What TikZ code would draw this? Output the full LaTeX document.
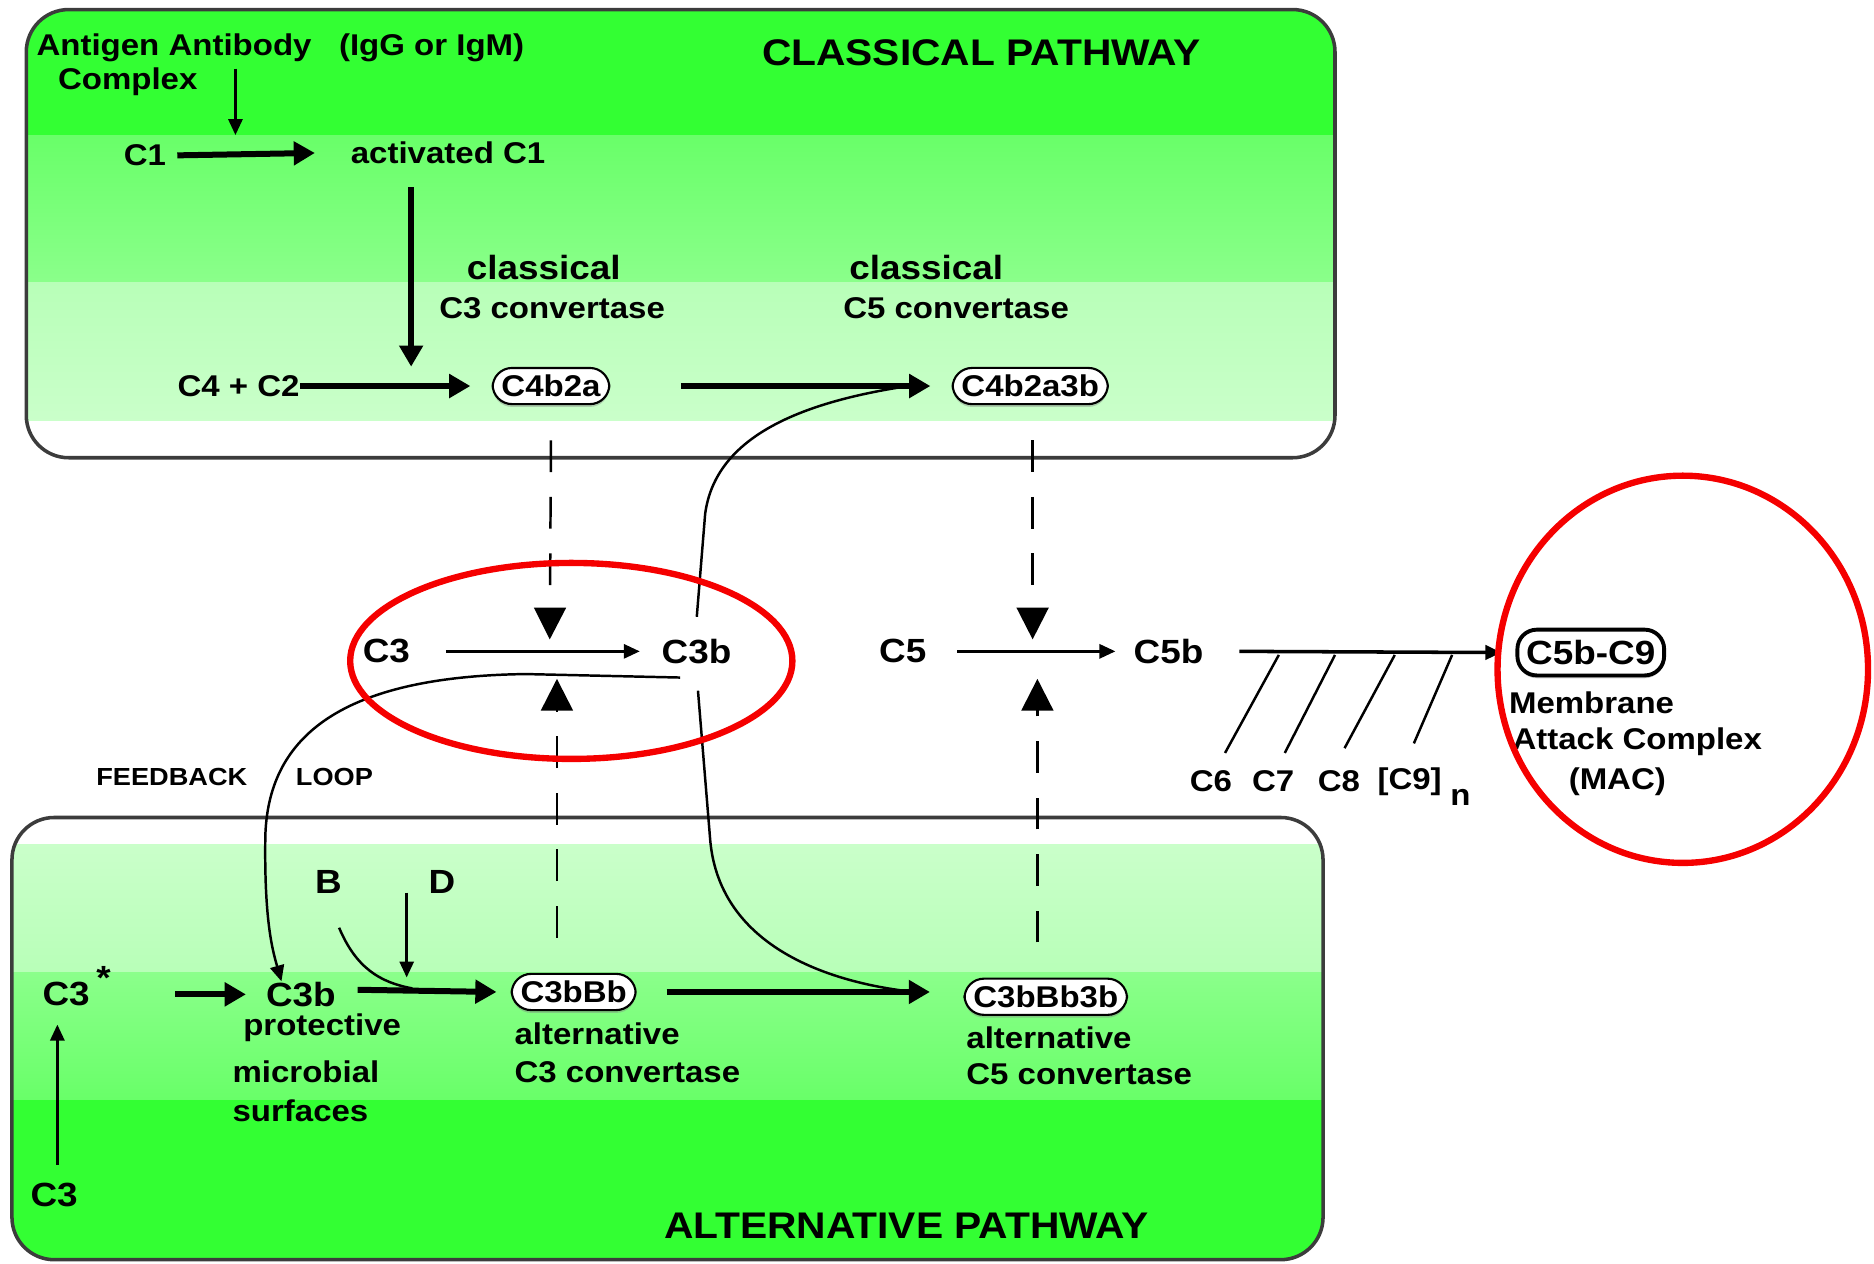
\documentclass[tikz,border=0pt]{standalone}
\usepackage{fontspec}
\setmainfont{Liberation Sans}[FakeStretch=1.1]
\usetikzlibrary{positioning,arrows.meta,shadows}

\definecolor{grnhi}{RGB}{51,255,51}
\definecolor{grnmid}{RGB}{118,255,118}
\definecolor{grnlo}{RGB}{184,255,184}
\definecolor{boxline}{RGB}{60,60,60}
\definecolor{ringred}{RGB}{245,0,0}

\begin{document}
\begin{tikzpicture}[x=0.0119cm, y=-0.0119cm,
    lbl/.style={inner sep=0pt, anchor=west, font=\fontsize{8.5}{10}\selectfont\bfseries},
    big/.style={lbl, font=\fontsize{9.5}{11}\selectfont\bfseries},
    head/.style={lbl, font=\fontsize{10.5}{12}\selectfont\bfseries},
    tiny/.style={lbl, font=\fontsize{7}{8}\selectfont\bfseries},
    pill/.style={draw=black, fill=white, rounded corners=5.5pt, inner xsep=2.5pt, inner ysep=2pt,
        line width=0.6pt, font=\fontsize{8.5}{10}\selectfont\bfseries,
        drop shadow={shadow xshift=0pt, shadow yshift=-0.8pt, opacity=0.4}},
    fat/.style={line width=1.7pt, -{Triangle[length=6pt,width=6.5pt]}},
    thin/.style={line width=0.7pt, -{Triangle[length=4.5pt,width=4pt]}},
    plain/.style={line width=0.7pt},
    dashline/.style={line width=0.7pt, dash pattern=on 9pt off 7pt, -{Triangle[length=9pt,width=9pt]}},
    ring/.style={draw=ringred, line width=1.8pt}
]
\useasboundingbox (0,0) rectangle (1568,1057);

% classical pathway panel
\begin{scope}
  \clip[rounded corners=12pt] (22,8) rectangle (1117,383);
  \fill[grnhi] (22,8) rectangle (1117,113);
  \shade[top color=grnmid!80!grnhi, bottom color=grnmid!85!white] (22,113) rectangle (1117,236);
  \shade[top color=grnlo, bottom color=grnlo!75!white] (22,236) rectangle (1117,352);
  \fill[white] (22,352) rectangle (1117,383);
\end{scope}
\draw[boxline, line width=1pt, rounded corners=12pt] (22,8) rectangle (1117,383);

% alternative pathway panel
\begin{scope}
  \clip[rounded corners=12pt] (10,684) rectangle (1107,1054);
  \fill[white] (10,684) rectangle (1107,707);
  \shade[top color=grnlo!75!white, bottom color=grnlo] (10,707) rectangle (1107,814);
  \shade[top color=grnmid!85!white, bottom color=grnmid!80!grnhi] (10,814) rectangle (1107,920);
  \fill[grnhi] (10,920) rectangle (1107,1054);
\end{scope}
\draw[boxline, line width=1pt, rounded corners=12pt] (10,684) rectangle (1107,1054);

% classical nodes
\node[lbl] (agab) at (30,40) {Antigen\ Antibody\ \ \ (IgG or IgM)};
\node[lbl] (cplx) at (48,68) {Complex};
\node[head] (title1) at (637,44) {CLASSICAL PATHWAY};
\node[lbl] (c1) at (103,130) {C1};
\node[lbl] (ac1) at (293,128) {activated\ C1};
\node[big] (cl3) at (390,224) {classical};
\node[lbl] (c3conv) at (367,258) {C3 convertase};
\node[big] (cl5) at (710,224) {classical};
\node[lbl] (c5conv) at (705,258) {C5 convertase};
\node[lbl] (c4c2) at (148,323) {C4 + C2};
\node[pill] (c4b2a) at (461,323) {C4b2a};
\node[pill] (c4b2a3b) at (862,323) {C4b2a3b};

\coordinate (c1mid) at (197,113);
\draw[thin] (agab.south -| c1mid) ++(0,5) -- (c1mid);
\draw[fat] ([xshift=3pt]c1.east) -- ([xshift=-10pt]ac1.west);
\draw[fat] ([shift={(51,19)}]ac1.south west) -- ++(0,150);
\draw[fat] (c4c2.east) -- ([xshift=-6pt]c4b2a.west);
\draw[fat] ([xshift=20pt]c4b2a.east) -- ([xshift=-6pt]c4b2a.east -| c4b2a3b.west);

% middle row
\node[big] (c3) at (303,545) {C3};
\node[big] (c3b) at (553,545) {C3b};
\node[big] (c5) at (735,545) {C5};
\node[big] (c5b) at (948,545) {C5b};
\draw[thin] ([xshift=10pt]c3.east) -- ([xshift=-6pt]c3b.west);
\draw[thin] ([xshift=8.5pt]c5.east) -- ([xshift=-5pt]c5b.west);

\node[pill, line width=1.1pt, font=\fontsize{9.5}{11}\selectfont\bfseries, inner ysep=3pt] (mac) at (1331,546) {C5b-C9};
\node[lbl] (memb) at (1262,588) {Membrane};
\node[lbl] (atck) at (1265,621) {Attack Complex};
\node[lbl] (macx) at (1312,654) {(MAC)};

\node[lbl] (c6) at (995,654) {C6};
\node[lbl] (c7) at (1047,654) {C7};
\node[lbl] (c8) at (1102,654) {C8};
\node[lbl] (c9) at (1152,654) {[C9]};
\node[lbl] (nsub) at (1213,667) {n};
\draw[thin, line width=1pt] ([xshift=10pt]c5b.east) -- ([xshift=-4pt]mac.west);
\draw[plain] (1070,548) -- (1025,630);
\draw[plain] (1117,548) -- (1075,630);
\draw[plain] (1167,548) -- (1125,626);
\draw[plain] (1215,548) -- (1183,622);

\node[tiny] (fb) at (80,650) {FEEDBACK};
\node[tiny] (loop) at (247,650) {LOOP};

% alternative nodes
\node[head] (title2) at (555,1026) {ALTERNATIVE PATHWAY};
\node[big] (bfac) at (263,738) {B};
\node[big] (dfac) at (358,738) {D};
\node[big] (c3s) at (35,832) {C3};
\node[big] (star) at (80,818) {*};
\node[big] (c3bl) at (222,832) {C3b};
\node[lbl] (prot) at (203,860) {protective};
\node[lbl] (micr) at (194,897) {microbial};
\node[lbl] (surf) at (194,929) {surfaces};
\node[pill] (c3bbb) at (480,830) {C3bBb};
\node[lbl] (alt3) at (430,865) {alternative};
\node[lbl] (conv3) at (430,897) {C3 convertase};
\node[pill] (c3bbb3b) at (875,834) {C3bBb3b};
\node[lbl] (alt5) at (808,868) {alternative};
\node[lbl] (conv5) at (808,899) {C5 convertase};
\node[big] (c3bot) at (25,1000) {C3};

\draw[thin] ([yshift=5pt]c3bot.north -| 48,0) -- ([yshift=-5pt]c3s.south -| 48,0);
\draw[fat] ([xshift=24pt]c3s.east) -- ([xshift=-5.5pt]c3bl.west);
\draw[fat] ([shift={(6pt,1.3pt)}]c3bl.east) -- ([xshift=-4pt]c3bbb.west);
\draw[fat] ([xshift=8.5pt]c3bbb.east) -- ([xshift=-9.5pt]c3bbb.east -| c3bbb3b.west);
\draw[thin] ([xshift=-6pt,yshift=-3pt]dfac.west) -- ++(0,71);
\draw[plain] ([shift={(9,28)}]bfac.south) .. controls (298,810) and (318,822) .. (345,827);

% dashed triggers
\draw[dashline] ([yshift=-10pt]c4b2a.south) -- (460,535);
\draw[dashline] ([yshift=-10pt]c4b2a3b.south -| 864,0) -- (864,535);
\draw[dashline] ([yshift=10pt]c3bbb.north -| 466,0) -- (466,568);
\draw[dashline] ([yshift=10pt]c3bbb3b.north -| 868,0) -- (868,568);

% C3b feeds the C5 convertases
\draw[plain] ([shift={(30,-18)}]c3b.north west) -- (590,430)
    .. controls (598,370) and (660,338) .. (760,323);
\draw[plain] ([shift={(31,22)}]c3b.south west) -- (594,700)
    .. controls (600,790) and (690,822) .. (765,830);

% feedback loop
\draw[thin] ([shift={(16,11)}]c3b.south west) -- (440,564)
    .. controls (280,566) and (224,620) .. (222,700)
    .. controls (221,770) and (228,795) .. ([xshift=-5.5pt]c3bl.north);

% highlight rings
\draw[ring] (478,553) ellipse [x radius=185, y radius=82];
\draw[ring] (1408,560) ellipse [x radius=155, y radius=162];
\end{tikzpicture}
\end{document}
